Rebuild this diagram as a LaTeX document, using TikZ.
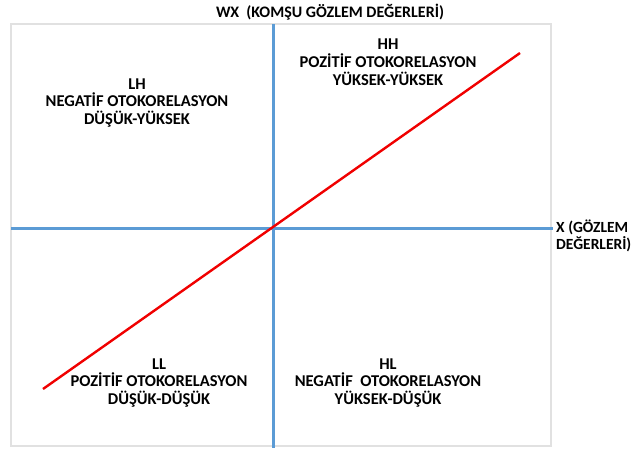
\documentclass[tikz,border=0pt]{standalone}
\usepackage{fontspec}
\setmainfont{Carlito}
\usetikzlibrary{positioning}
\definecolor{axisblue}{RGB}{91,155,213}
\definecolor{framegray}{RGB}{225,225,225}
\definecolor{trendred}{RGB}{240,0,0}
\tikzset{
    quadtext/.style={font=\bfseries\fontsize{16.5}{17.8}\selectfont, align=center, inner sep=0pt},
    axislabel/.style={font=\bfseries\fontsize{15.5}{16.5}\selectfont, inner sep=0pt}
}

\begin{document}
\begin{tikzpicture}[x=1pt, y=-1pt]
    \useasboundingbox (0,0) rectangle (636,448);

    \coordinate (tl) at (11,24);
    \coordinate (br) at (551,446);
    \coordinate (ytop) at (273,24);
    \coordinate (ybot) at (273,448);
    \coordinate (xleft) at (11,228);
    \coordinate (xright) at (553,228);
    \coordinate (lowend) at (43,389);
    \coordinate (highend) at (520,53);

    % border
    \draw[framegray, line width=1.5pt] (tl) rectangle (br);

    % axes
    \draw[axisblue, line width=3pt] (ytop) -- (ybot);
    \draw[axisblue, line width=3pt] (xleft) -- (xright);

    % regression line
    \draw[trendred, line width=2.4pt] (lowend) -- (highend);

    % axis titles
    \node[axislabel, font=\bfseries\fontsize{16}{16.5}\selectfont] (wxlabel) at (330,12) {WX\ \ (KOMŞU GÖZLEM DEĞERLERİ)};
    \node[axislabel, anchor=west, align=left] (xlabel) at (556,236) {X (GÖZLEM\\DEĞERLERİ)};

    % quadrant texts
    \foreach \name/\px/\py/\txt in {
        lh/137/103/{LH\\NEGATİF OTOKORELASYON\\DÜŞÜK-YÜKSEK},
        hh/388/62/{HH\\POZİTİF OTOKORELASYON\\YÜKSEK-YÜKSEK},
        ll/159/383/{LL\\POZİTİF OTOKORELASYON\\DÜŞÜK-DÜŞÜK},
        hl/388/383/{HL\\NEGATİF\ \ OTOKORELASYON\\YÜKSEK-DÜŞÜK}}{

        \node[quadtext] (\name) at (\px,\py) {\txt};
    }
\end{tikzpicture}
\end{document}
